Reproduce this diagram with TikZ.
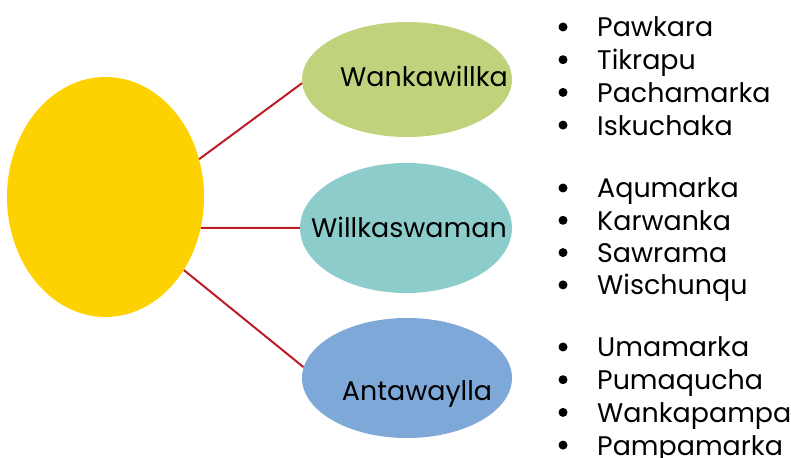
\documentclass[tikz,border=0pt]{standalone}
\usepackage{fontspec}
\setmainfont{Poppins}
\usetikzlibrary{shapes.geometric}

\definecolor{sunyellow}{RGB}{254,210,0}
\definecolor{leafgreen}{RGB}{193,210,124}
\definecolor{leafteal}{RGB}{140,204,202}
\definecolor{leafblue}{RGB}{126,168,216}
\definecolor{linkred}{RGB}{190,28,36}

\tikzset{
  blob/.style={ellipse,inner sep=0pt},
  blobtext/.style={anchor=base,font=\fontsize{27}{30}\selectfont},
  item/.style={anchor=base west,inner sep=0pt,font=\fontsize{27}{30}\selectfont},
  link/.style={linkred,line width=2bp}
}

\begin{document}
\begin{tikzpicture}[x=1bp,y=-1bp]
\useasboundingbox (0,0) rectangle (791,458);

			\node[blob,fill=sunyellow,minimum width=197bp,minimum height=240bp] (sun) at (105.5,197) {};

			\node[blob,fill=leafgreen,minimum width=210bp,minimum height=115bp] (wanka) at (407,79.5) {};
			\node[blob,fill=leafteal,minimum width=212bp,minimum height=130bp] (willka) at (406,228) {};
			\node[blob,fill=leafblue,minimum width=210bp,minimum height=120bp] (anta) at (407,378) {};

			\node[blobtext] (wankatxt) at (424,86.5) {Wankawillka};
			\node[blobtext] (willkatxt) at (409,238) {Willkaswaman};
			\node[blobtext] (antatxt) at (417,400) {Antawaylla};

			\draw[link] (sun.22) -- (wanka.182);
			\draw[link] (sun.-18) -- (willka.180);
			\draw[link] (sun.-43) -- (anta.174);

			% place names, one list per branch
			\foreach \name [count=\i] in {Pawkara,Tikrapu,Pachamarka,Iskuchaka} {
				\fill (563,{27+32.7*(\i-1)}) circle (4.5bp);
				\node[item] (wk\i) at (597,{37+32.7*(\i-1)}) {\name};
			}
			\foreach \name [count=\i] in {Aqumarka,Karwanka,Sawrama,Wischunqu} {
				\fill (563,{188+32.3*(\i-1)}) circle (4.5bp);
				\node[item] (ws\i) at (597,{198+32.3*(\i-1)}) {\name};
			}
			\foreach \name [count=\i] in {Umamarka,Pumaqucha,Wankapampa,Pampamarka} {
				\fill (563,{347+32.7*(\i-1)}) circle (4.5bp);
				\node[item] (aw\i) at (597,{357+32.7*(\i-1)}) {\name};
			}

\end{tikzpicture}
\end{document}
